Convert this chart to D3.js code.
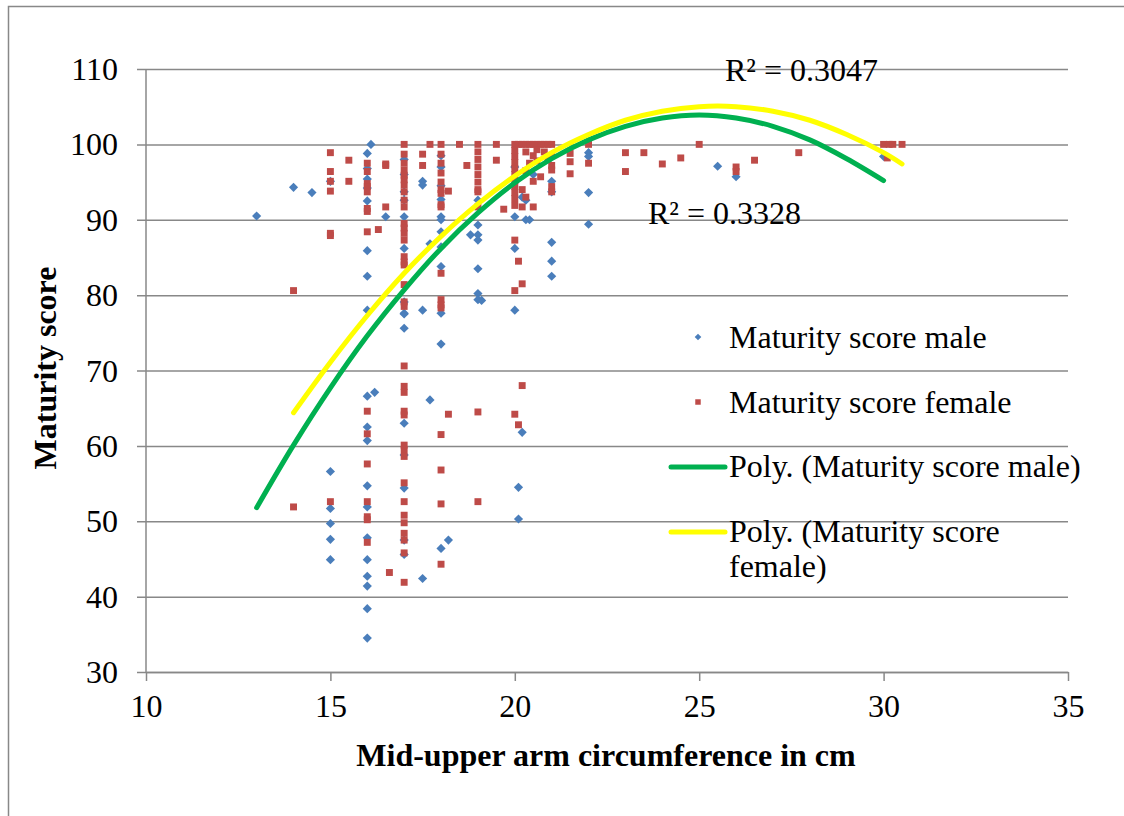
<!DOCTYPE html>
<html lang="en">
<head>
    <meta charset="UTF-8">
    <title>Maturity score vs MUAC</title>
    <script src="https://d3js.org/d3.v7.min.js"></script>
    <style>
        body { margin: 0; background: #fff; }
        svg text { font-family: "Liberation Serif", "Times New Roman", serif; fill: #000; }
    </style>
</head>
<body>
    <svg id="chart" width="1124" height="816"></svg>

    <script>
        // Maturity score male (blue diamonds)
        const maleX = [13, 14, 14.5, 15, 15, 15, 15, 15, 15,
            16.1, 16, 16, 16, 16, 16, 16, 16, 16, 16, 16.2, 16, 16, 16, 16, 16, 16, 16, 16, 16, 16, 16.5,
            17, 17, 17, 17, 17, 17, 17, 17, 17, 17, 17, 17, 17, 17, 17,
            17.5, 17.5, 17.5, 17.5, 17.7, 17.7,
            18, 18, 18, 18, 18, 18, 18, 18, 18, 18, 18, 18, 18.2,
            18.8, 19, 19, 19, 19, 19, 19, 19, 19.1,
            20, 20, 20, 20.1, 20.1, 20.2, 20.3, 20.3, 20.4, 20.2, 20, 20.5,
            21, 21, 21, 21, 21,
            22, 22, 22, 22,
            25.5, 26, 30];
        const maleY = [90.5, 94.3, 93.6, 95.1, 56.6, 51.7, 49.7, 47.6, 44.9,
            100, 98.8, 96.8, 95.4, 94.2, 92.5, 85.9, 82.5, 78.0, 66.6, 67.1, 62.5, 60.7, 54.7, 51.9, 47.8, 44.9, 42.7, 41.4, 38.4, 34.5, 90.4,
            93.7, 92.6, 90.4, 86.2, 79.1, 77.6, 77.5, 75.6, 63.0, 58.8, 54.4, 47.5, 45.6, 98.0, 96.0,
            95.1, 94.6, 78.0, 42.4, 86.8, 66.1,
            98.5, 97.0, 94.5, 92.7, 90.4, 90.0, 88.4, 86.4, 83.8, 77.6, 73.5, 46.4, 47.5,
            88.0, 92.6, 89.3, 88.0, 87.3, 83.5, 80.2, 79.4, 79.3,
            90.4, 86.2, 78.0, 54.5, 50.3, 61.8, 92.6, 90.0, 90.0, 93.0, 97.0, 96.0,
            95.1, 93.7, 87.0, 84.5, 82.5,
            98.9, 98.4, 93.6, 89.4,
            97.1, 95.7, 98.4];

        // Maturity score female (red squares)
        const femaleX = [14, 14, 15, 15, 15, 15, 15, 15, 15, 15.5, 15.5,
            16, 16, 16, 16, 16, 16, 16, 16, 16, 16, 16, 16, 16, 16, 16, 16.3, 16.5, 16.5, 16.5, 16.6,
            17, 17, 17, 17, 17, 17, 17, 17, 17, 17, 17, 17, 17, 17, 17, 17, 17, 17, 17, 17,
            17, 17, 17, 17, 17, 17, 17, 17, 17, 17, 17, 17, 17, 17, 17, 17,
            17.5, 17.5, 17.7,
            18, 18, 18, 18, 18, 18, 18, 18.2, 18, 18, 18, 18, 18, 18, 18, 18, 18, 18, 18.2,
            18.5, 18.7,
            19, 19, 19, 19, 19, 19, 19, 19, 19, 19, 19,
            19.5, 19.5, 19.7,
            20, 20, 20, 20, 20, 20, 20, 20, 20, 20, 20, 20, 20, 20, 20.1, 20.1, 20.2, 20.2, 20.2, 20.2,
            20.1, 20.2, 20.3, 20.4, 20.5, 20.6, 20.7, 20.8, 20.9, 21,
            20.3, 20.5, 20.6, 20.3, 20.5, 20.7, 20.4, 20.8, 21, 21, 21, 21, 21, 20.5, 20.3, 20.6, 20.9,
            21.5, 21.5, 21.5, 22, 22,
            23, 23, 23.5, 24, 24.5, 25, 26, 26, 26.5, 27.7,
            30, 30.15, 30.25, 30.5, 30.1];
        const femaleY = [80.6, 51.9, 98.9, 96.4, 95.1, 93.8, 88.2, 87.9, 52.6, 97.9, 95.1,
            97.5, 96.4, 94.8, 94.4, 93.7, 91.5, 91.1, 88.4, 64.6, 61.6, 57.6, 52.6, 50.6, 50.2, 47.2, 88.7, 97.4, 97.2, 91.7, 43.2,
            100, 98.7, 97.5, 96.6, 95.9, 95.3, 94.6, 93.7, 92.6, 91.7, 89.5, 88.9, 88.2, 87.3, 85.1, 84.4, 84.0, 81.4, 79.1, 78.5,
            70.6, 67.9, 67.1, 64.6, 64.1, 60.1, 59.5, 58.6, 55.1, 52.6, 50.8, 49.8, 48.4, 47.5, 45.8, 41.9,
            98.7, 97.2, 100,
            100, 98.7, 97.5, 96.2, 95.0, 94.0, 93.5, 93.8, 92.0, 91.7, 82.9, 79.4, 78.7, 78.3, 61.5, 56.8, 52.3, 44.3, 64.2,
            100, 97.2,
            100, 99, 98, 97, 96, 95, 94, 93.7, 91.7, 64.5, 52.6,
            100, 97.9, 91.4,
            100, 99.2, 98.4, 97.6, 96.8, 96, 95.2, 94.4, 93.6, 92.8, 91.9, 87.3, 80.6, 64.2, 84.5, 62.8, 81.5, 68.0, 91.7, 94,
            100, 100, 100, 100, 100, 100, 100, 100, 100, 100,
            99, 98.5, 97.8, 96.5, 95.1, 95.7, 97.5, 99, 98.5, 97.2, 96.6, 94.4, 93.7, 91.7, 93, 99.3, 98,
            98.8, 97.7, 96.1, 100, 97.5,
            98.9, 96.4, 98.9, 97.4, 98.2, 100, 97.0, 96.4, 97.9, 98.9,
            100, 100, 100, 100, 98.2];

        // Polynomial trend lines
        const maleTrendX = [13, 14, 15, 16, 17, 18, 19, 20, 21, 22, 23, 24, 25, 26, 27, 28, 29, 30];
        const maleTrendY = [51.8, 60.1, 67.7, 74.6, 80.7, 86.2, 90.9, 94.9, 98.1, 100.6, 102.4, 103.5, 103.9, 103.5, 102.4, 100.6, 98.1, 95.2];
        const femaleTrendX = [14, 15, 16, 17, 18, 19, 20, 21, 22, 23, 24, 25, 26, 27, 28, 29, 30, 30.5];
        const femaleTrendY = [64.4, 71.1, 77.3, 82.9, 87.8, 92.1, 95.8, 98.9, 101.3, 103.2, 104.4, 105.0, 105.0, 104.4, 103.2, 101.3, 98.9, 97.4];

        const xTicks = [10, 15, 20, 25, 30, 35];
        const yTicks = [30, 40, 50, 60, 70, 80, 90, 100, 110];
        const r2Labels = ["R\u00B2 = 0.3047", "R\u00B2 = 0.3328"];
        const legendLabels = ["Maturity score male", "Maturity score female", "Poly. (Maturity score male)", ["Poly. (Maturity score", "female)"]];

        const serif = "Liberation Serif, Times New Roman, serif";
        const fs = 32;
        const blue = "#4A7EBB", red = "#BE4B48", green = "#00B050", yellow = "#FFFF00", grid = "#888888";
        const svg = d3.select("#chart").attr("font-family", serif);
        const x = d3.scaleLinear().domain([10, 35]).range([146, 1068]);
        const y = d3.scaleLinear().domain([30, 110]).range([672, 69]);

        // outer chart border
        svg.append("rect").attr("x", 8.5).attr("y", 6.5).attr("width", 1130).attr("height", 830)
            .attr("fill", "none").attr("stroke", grid).attr("stroke-width", 1.5);

        // horizontal gridlines + left axis
        const yAxis = svg.append("g").attr("transform", "translate(146,0)")
            .call(d3.axisLeft(y).tickValues(yTicks).tickSizeInner(-(1068 - 146)).tickSizeOuter(0).tickPadding(28));
        yAxis.attr("font-family", serif).attr("font-size", fs);
        yAxis.select(".domain").remove();
        yAxis.selectAll(".tick line").attr("x1", -9).attr("x2", 1068 - 146).attr("stroke", grid).attr("stroke-width", 1.5);
        yAxis.selectAll(".tick text").attr("x", -28).attr("dy", "0.33em");
        svg.append("line").attr("x1", 146).attr("x2", 146).attr("y1", 69).attr("y2", 672)
            .attr("stroke", grid).attr("stroke-width", 1.5);

        // bottom axis
        const xAxis = svg.append("g").attr("transform", "translate(0,672)")
            .call(d3.axisBottom(x).tickValues(xTicks).tickSize(9).tickSizeOuter(0).tickPadding(14));
        xAxis.attr("font-family", serif).attr("font-size", fs);
        xAxis.select(".domain").attr("stroke", grid).attr("stroke-width", 1.5);
        xAxis.selectAll(".tick line").attr("stroke", grid).attr("stroke-width", 1.5);
        xAxis.selectAll(".tick text").attr("dy", "0.7em");

        // scatter series
        const maleData = maleX.map((v, i) => ({ x: v, y: maleY[i] }));
        const femaleData = femaleX.map((v, i) => ({ x: v, y: femaleY[i] }));
        const diamond = d3.symbol().type(d3.symbolSquare).size(42);
        const square = d3.symbol().type(d3.symbolSquare).size(48);
        svg.append("g").selectAll("path").data(maleData).enter().append("path")
            .attr("d", diamond).attr("fill", blue)
            .attr("transform", d => `translate(${x(d.x)},${y(d.y)}) rotate(45)`);
        svg.append("g").selectAll("path").data(femaleData).enter().append("path")
            .attr("d", square).attr("fill", red)
            .attr("transform", d => `translate(${x(d.x)},${y(d.y)})`);

        // trend lines
        const line = d3.line().x(d => x(d[0])).y(d => y(d[1])).curve(d3.curveCatmullRom);
        svg.append("path").datum(maleTrendX.map((v, i) => [v, maleTrendY[i]])).attr("d", line)
            .attr("fill", "none").attr("stroke", green).attr("stroke-width", 5).attr("stroke-linecap", "round");
        svg.append("path").datum(femaleTrendX.map((v, i) => [v, femaleTrendY[i]])).attr("d", line)
            .attr("fill", "none").attr("stroke", yellow).attr("stroke-width", 5).attr("stroke-linecap", "round");

        // R² labels
        svg.append("text").attr("x", 725).attr("y", 81).attr("font-size", fs).text(r2Labels[0]);
        svg.append("text").attr("x", 648).attr("y", 224).attr("font-size", fs).text(r2Labels[1]);

        // axis titles
        svg.append("text").attr("x", 606).attr("y", 766).attr("text-anchor", "middle")
            .attr("font-size", fs).attr("font-weight", "bold").text("Mid-upper arm circumference in cm");
        svg.append("text").attr("transform", "translate(56,368) rotate(-90)").attr("text-anchor", "middle")
            .attr("font-size", fs).attr("font-weight", "bold").text("Maturity score");

        // legend
        const lg = svg.append("g").attr("font-size", fs);
        lg.append("path").attr("d", d3.symbol().type(d3.symbolSquare).size(22)).attr("fill", blue)
            .attr("transform", "translate(698,337) rotate(45)");
        lg.append("path").attr("d", d3.symbol().type(d3.symbolSquare).size(30)).attr("fill", red)
            .attr("transform", "translate(698,402)");
        lg.append("line").attr("x1", 671).attr("x2", 725).attr("y1", 467).attr("y2", 467)
            .attr("stroke", green).attr("stroke-width", 5).attr("stroke-linecap", "round");
        lg.append("line").attr("x1", 671).attr("x2", 725).attr("y1", 532).attr("y2", 532)
            .attr("stroke", yellow).attr("stroke-width", 5).attr("stroke-linecap", "round");
        lg.append("text").attr("x", 729).attr("y", 348).text(legendLabels[0]);
        lg.append("text").attr("x", 729).attr("y", 413).text(legendLabels[1]);
        lg.append("text").attr("x", 729).attr("y", 477).text(legendLabels[2]);
        lg.append("text").attr("x", 729).attr("y", 542).text(legendLabels[3][0]);
        lg.append("text").attr("x", 729).attr("y", 577).text(legendLabels[3][1]);
    </script>
</body>
</html>
